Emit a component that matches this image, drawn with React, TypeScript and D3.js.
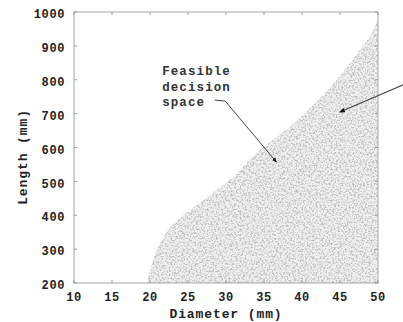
import React from 'react'
import * as d3 from 'd3'

// boundary of the feasible region (diameter mm, length mm)
const boundaryD = [19.6, 20.4, 20.9, 21.6, 22.4, 23.7, 25.3, 26.6, 30.5, 34.5, 38.4, 40.8, 43.4, 46.6, 49.9, 50]
const boundaryL = [200, 268, 298, 327, 357, 386, 416, 437, 504, 593, 661, 711, 770, 858, 976, 990]

const xTicks = [10, 15, 20, 25, 30, 35, 40, 45, 50]
const yTicks = [200, 300, 400, 500, 600, 700, 800, 900, 1000]

const noteLines = ['Feasible', 'decision', 'space']
// leader from the note into the region, and the arrow coming from the right
const leaderD = [28.5, 29.9, 36.6]
const leaderL = [740, 737, 558]
const rightArrowD = [53.8, 45.0]
const rightArrowL = [790, 705]

const W = 403
const H = 322
const mono = '"Liberation Mono", "DejaVu Sans Mono", monospace'

export default function App() {
  const x = d3.scaleLinear().domain([10, 50]).range([74, 378])
  const y = d3.scaleLinear().domain([200, 1000]).range([283, 12])

  const pts = boundaryD.map((d, i) => ({ D: d, L: boundaryL[i] }))
  const area = d3.area<{ D: number; L: number }>()
    .y(d => y(d.L))
    .x0(d => x(d.D))
    .x1(() => x(50))
    .curve(d3.curveMonotoneY)
  const regionPath = area(pts) || ''

  const line = d3.line<[number, number]>().x(d => x(d[0])).y(d => y(d[1]))
  const leader = line(leaderD.map((d, i) => [d, leaderL[i]]))
  const rightArrow = line(rightArrowD.map((d, i) => [d, rightArrowL[i]]))

  const [x0, x1] = x.range()
  const [y0, y1] = y.range()

  return (
    <svg width={W} height={H} style={{ position: 'absolute', left: 0, top: 0, background: '#fff' }}>
      <defs>
        <filter id="stipple" x="0" y="0" width="1" height="1">
          <feTurbulence type="fractalNoise" baseFrequency="0.55" numOctaves="2" seed="7" result="n" />
          <feColorMatrix in="n" type="matrix"
            values="0 0 0 0 0.5  0 0 0 0 0.5  0 0 0 0 0.5  3.6 0 0 0 -1.6" result="dots" />
          <feComposite in="dots" in2="SourceGraphic" operator="in" />
        </filter>
        <marker id="head" viewBox="0 0 10 10" refX="8" refY="5" markerWidth="5" markerHeight="5" orient="auto">
          <path d="M0,1 L10,5 L0,9 Z" fill="#111" />
        </marker>
      </defs>

      {/* feasible region */}
      <path d={regionPath} fill="#f1f1f1" />
      <path d={regionPath} fill="#fff" filter="url(#stipple)" />

      {/* frame */}
      <rect x={x0} y={y1} width={x1 - x0} height={y0 - y1} fill="none" stroke="#a8a8a8" strokeWidth={1} />

      {/* inward ticks */}
      {xTicks.map(t => (
        <g key={'xt' + t}>
          <line x1={x(t)} x2={x(t)} y1={y0} y2={y0 - 3} stroke="#999" />
          <line x1={x(t)} x2={x(t)} y1={y1} y2={y1 + 3} stroke="#999" />
        </g>
      ))}
      {yTicks.map(t => (
        <g key={'yt' + t}>
          <line x1={x0} x2={x0 + 3} y1={y(t)} y2={y(t)} stroke="#999" />
          <line x1={x1} x2={x1 - 3} y1={y(t)} y2={y(t)} stroke="#999" />
        </g>
      ))}

      {/* tick labels */}
      {xTicks.map(t => (
        <text key={'xl' + t} x={x(t)} y={301} textAnchor="middle" fontFamily={mono}
          fontWeight="bold" fontSize={12} letterSpacing={0.6} fill="#222">{t}</text>
      ))}
      {yTicks.map(t => (
        <text key={'yl' + t} x={65} y={y(t) + 2} dy="0.35em" textAnchor="end" fontFamily={mono}
          fontWeight="bold" fontSize={12} letterSpacing={0.6} fill="#222">{t}</text>
      ))}

      {/* axis titles */}
      <text x={(x0 + x1) / 2} y={318} textAnchor="middle" fontFamily={mono} fontWeight="bold"
        fontSize={13} letterSpacing={0.9} fill="#222">Diameter (mm)</text>
      <text transform={`translate(27,157) rotate(-90)`} textAnchor="middle" fontFamily={mono}
        fontWeight="bold" fontSize={13} letterSpacing={0.9} fill="#222">Length (mm)</text>

      {/* annotation */}
      {noteLines.map((s, i) => (
        <text key={s} x={x(21.6)} y={y(826) + i * 15.5} dy="0.35em" fontFamily={mono}
          fontWeight="bold" fontSize={12.5} letterSpacing={1.1} fill="#333">{s}</text>
      ))}
      <path d={leader || ''} fill="none" stroke="#444" strokeWidth={1} markerEnd="url(#head)" />
      <path d={rightArrow || ''} fill="none" stroke="#444" strokeWidth={1.2} markerEnd="url(#head)" />
    </svg>
  )
}
